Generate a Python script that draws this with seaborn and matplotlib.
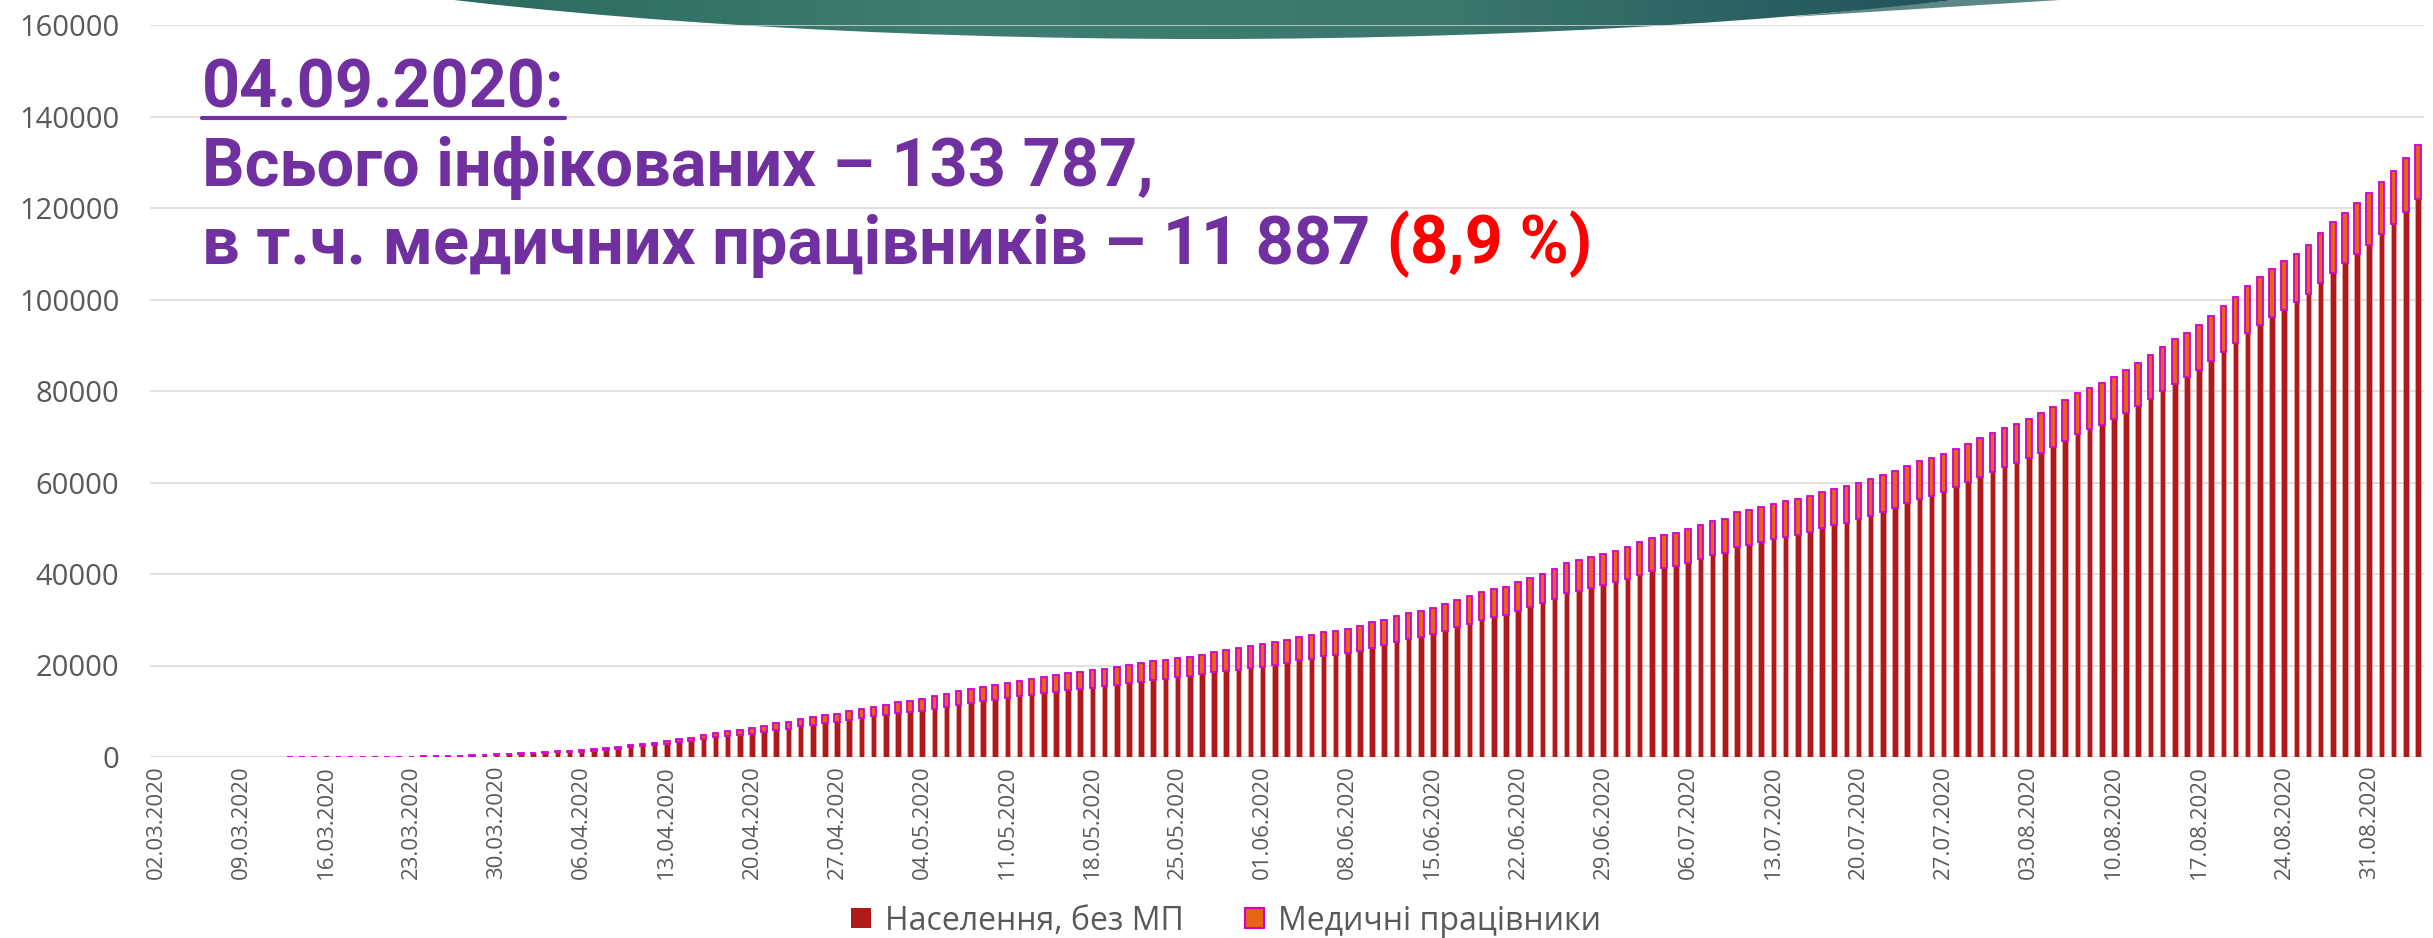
import matplotlib
matplotlib.use('Agg')
import matplotlib.pyplot as plt
import matplotlib.lines as mlines
from matplotlib.patches import Ellipse, Patch, Polygon
from matplotlib.colors import LinearSegmentedColormap
import seaborn as sns
import numpy as np
import pandas as pd

# daily categories 02.03.2020 .. 04.09.2020
dates = pd.date_range('2020-03-02', '2020-09-04', freq='D').strftime('%d.%m.%Y').tolist()

# cumulative totals (population + medical workers)
total_cases = [
    0, 0, 0, 0, 0, 0, 0, 0, 0, 0,
    0, 3, 3, 3, 7, 14, 16, 26, 41, 47,
    73, 84, 113, 145, 196, 218, 356, 475, 548, 645,
    794, 897, 1072, 1225, 1319, 1462, 1700, 1950, 2200, 2550,
    2900, 3150, 3450, 3880, 4250, 4830, 5270, 5630, 5920, 6360,
    6720, 7380, 7680, 8260, 8700, 9130, 9500, 10010, 10450, 10960,
    11400, 11980, 12270, 12640, 13300, 13730, 14320, 14760, 15340, 15700,
    16070, 16580, 16950, 17460, 17900, 18330, 18550, 18920, 19280, 19720,
    20160, 20520, 20890, 21180, 21550, 21840, 22350, 23000, 23440, 23880,
    24170, 24610, 25120, 25630, 26220, 26730, 27240, 27600, 28040, 28620,
    29430, 30010, 30740, 31400, 31980, 32640, 33440, 34250, 35120, 36000,
    36650, 37240, 38190, 39130, 40010, 41110, 42420, 43000, 43730, 44320,
    45050, 46000, 46950, 47820, 48480, 49060, 49870, 50740, 51690, 51980,
    53520, 53950, 54680, 55270, 55850, 56290, 57020, 57900, 58550, 59130,
    59940, 60740, 61540, 62570, 63660, 64610, 65340, 66290, 67310, 68480,
    69650, 70740, 71840, 72860, 73950, 75270, 76580, 77970, 79500, 80670,
    81690, 82990, 84580, 86050, 87800, 89660, 91320, 92780, 94340, 96390,
    98540, 100590, 102930, 104880, 106630, 108390, 110050, 112000, 114440, 116880,
    118930, 121070, 123220, 125660, 128100, 130830, 133787,
]

# medical workers (top segment)
medical_workers = [
    0, 0, 0, 0, 0, 0, 0, 0, 0, 0,
    0, 0, 0, 0, 0, 0, 0, 0, 2, 3,
    5, 7, 10, 14, 20, 25, 40, 55, 70, 90,
    110, 130, 160, 190, 220, 260, 300, 340, 390, 440,
    500, 560, 620, 690, 760, 850, 950, 1050, 1150, 1240,
    1330, 1450, 1500, 1580, 1660, 1750, 1820, 1900, 1980, 2100,
    2230, 2400, 2480, 2520, 2700, 2840, 2920, 2990, 3200, 3230,
    3280, 3350, 3380, 3570, 3600, 3680, 3720, 3800, 3840, 3880,
    4010, 4030, 4090, 4150, 4170, 4190, 4300, 4450, 4600, 4780,
    4820, 4890, 4950, 4980, 5110, 5200, 5240, 5260, 5290, 5400,
    5500, 5540, 5620, 5690, 5750, 5790, 5840, 5910, 5980, 6050,
    6110, 6170, 6270, 6340, 6420, 6530, 6600, 6690, 6760, 6810,
    6860, 7000, 7080, 7150, 7220, 7290, 7360, 7420, 7440, 7460,
    7540, 7560, 7640, 7700, 7710, 7730, 7760, 7810, 7860, 7900,
    7960, 8010, 8070, 8120, 8180, 8230, 8250, 8260, 8300, 8320,
    8420, 8460, 8550, 8570, 8700, 8800, 8870, 8890, 8970, 9080,
    9100, 9200, 9400, 9420, 9460, 9700, 9720, 9760, 9840, 9940,
    10030, 10130, 10310, 10420, 10520, 10600, 10650, 10880, 10920, 11000,
    11030, 11110, 11280, 11320, 11500, 11640, 11887,
]

population = [t - m for t, m in zip(total_cases, medical_workers)]

yticks = [0, 20000, 40000, 60000, 80000, 100000, 120000, 140000, 160000]
xtick_labels = dates[::7]

series_names = ['Населення, без МП', 'Медичні працівники']
title_date = '04.09.2020:'
title_total = 'Всього інфікованих – 133 787,'
title_med = 'в т.ч. медичних працівників – 11 887'
title_share = ' (8,9 %)'

RED = '#B01A1A'
ORANGE = '#E8650F'
MAGENTA = '#D000D0'
PURPLE = '#7030A0'
GREY = '#595959'

sns.set_style('white')
plt.rcParams['font.family'] = ['Open Sans', 'DejaVu Sans']

W, H = 2433, 938
fig = plt.figure(figsize=(W / 100, H / 100), dpi=100)

# decorative banner at the top (template shape)
bg = fig.add_axes([0, 0, 1, 1], zorder=0)
# lighter sliver at the right end of the banner, behind the main shape
bg.add_patch(Polygon([(1790, 17), (1954, 0), (2060, 0)], closed=True,
                     facecolor='#5d8785', edgecolor='none', zorder=1))
cmap = LinearSegmentedColormap.from_list('teal', ['#2b6a60', '#3f7d71', '#3b776d', '#20515a'])
grad = np.linspace(0, 1, 256).reshape(1, -1)
im = bg.imshow(grad, cmap=cmap, extent=(440, 1970, 45, 0), aspect='auto', zorder=2)
shape = Ellipse((1204, -150), 2466, 378, facecolor='none', edgecolor='none')
bg.add_patch(shape)
im.set_clip_path(shape)
bg.set_xlim(0, W)
bg.set_ylim(H, 0)
bg.axis('off')

ax = fig.add_axes([150 / W, 1 - 757 / H, 2274 / W, (757 - 25) / H], zorder=1)
ax.patch.set_alpha(0)

sns.barplot(x=dates, y=population, color=RED, saturation=1, width=0.46,
            errorbar=None, edgecolor='#E6AAAA', linewidth=0.5, ax=ax)
sns.barplot(x=dates, y=medical_workers, bottom=population, color=ORANGE,
            saturation=1, width=0.46, errorbar=None, edgecolor=MAGENTA,
            linewidth=1.3, ax=ax)

# no outline for days without any cases
for patch, t in zip(ax.containers[1], total_cases):
    if t == 0:
        patch.set_visible(False)

ax.set_ylim(0, 160000)
ax.set_yticks(yticks)
ax.set_yticklabels([str(v) for v in yticks])
ax.set_xticks(range(0, len(dates), 7))
ax.set_xticklabels(xtick_labels, rotation=90)
ax.set_xlabel('')
ax.set_ylabel('')
ax.yaxis.grid(True, color='#D9D9D9', linewidth=1.1)
ax.set_axisbelow(True)
sns.despine(ax=ax, left=True, bottom=True)
ax.tick_params(axis='y', length=0, pad=22, labelsize=21, labelcolor=GREY)
ax.tick_params(axis='x', length=0, pad=6, labelsize=16, labelcolor=GREY)

# headline
tfont = dict(family=['Roboto', 'DejaVu Sans'], weight='bold', size=48, color=PURPLE)
x0 = 202 / W
t1 = fig.text(x0, 1 - 107 / H, title_date, va='baseline', **tfont)
t2 = fig.text(x0, 1 - 186 / H, title_total, va='baseline', **tfont)
t3 = fig.text(x0, 1 - 264 / H, title_med, va='baseline', **tfont)
bg.annotate(title_share, xy=(1, 0), xycoords=t3, va='bottom', ha='left',
            annotation_clip=False, **{**tfont, 'color': '#FF0000'})

fig.canvas.draw()
bb = t1.get_window_extent()
uy = H - 118
(ux0, uyf), (ux1, _) = fig.transFigure.inverted().transform([(bb.x0, uy), (bb.x1, uy)])
fig.add_artist(mlines.Line2D([ux0, ux1], [uyf, uyf], color=PURPLE, linewidth=3))

handles = [
    Patch(facecolor=RED, edgecolor='none', label=series_names[0]),
    Patch(facecolor=ORANGE, edgecolor=MAGENTA, linewidth=1.5, label=series_names[1]),
]
fig.legend(handles=handles, loc='center', bbox_to_anchor=(0.504, 17 / H), ncol=2,
           frameon=False, fontsize=23, labelcolor=GREY, handlelength=0.6,
           handleheight=0.6, handletextpad=0.45, columnspacing=1.9)

fig.savefig('out.png', dpi=100)
